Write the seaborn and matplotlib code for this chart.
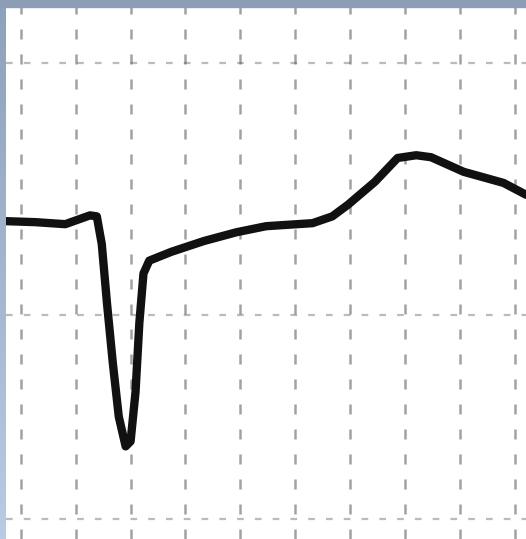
import numpy as np
import pandas as pd
import matplotlib
matplotlib.use("Agg")
import matplotlib.pyplot as plt
from matplotlib.patches import Rectangle
import seaborn as sns

# -----------------------------
# Data (ECG trace)
# -----------------------------
time_s = [-0.054, 0.054, 0.162, 0.252, 0.277, 0.295, 0.314, 0.335, 0.357,
          0.382, 0.400, 0.418, 0.432, 0.447, 0.468, 0.548, 0.667, 0.786,
          0.894, 1.063, 1.135, 1.193, 1.290, 1.373, 1.441, 1.495, 1.614,
          1.759, 1.841]
voltage_mv = [0.373, 0.369, 0.361, 0.396, 0.392, 0.282, 0.047, -0.188, -0.404,
              -0.522, -0.502, -0.306, -0.031, 0.165, 0.216, 0.251, 0.294, 0.329,
              0.353, 0.365, 0.392, 0.439, 0.529, 0.624, 0.635, 0.627, 0.569,
              0.525, 0.478]

x_grid = [0.0, 0.2, 0.4, 0.6, 0.8, 1.0, 1.2, 1.4, 1.6, 1.8]
y_grid = [1.0, 0.0, -0.81]

df = pd.DataFrame({"t": time_s, "mv": voltage_mv})

# -----------------------------
# Graph
# -----------------------------
sns.set_style("white")

fig = plt.figure(figsize=(5.26, 5.39), dpi=100)
fig.patch.set_facecolor("white")
ax = fig.add_axes([6 / 526, 0, 1 - 6 / 526, 1 - 7 / 539])

sns.lineplot(data=df, x="t", y="mv", ax=ax, color="#111111",
             linewidth=6.0, sort=False, solid_capstyle="round",
             solid_joinstyle="round")

ax.set_xlim(-0.054, 1.841)
ax.set_ylim(-0.89, 1.224)
ax.set_xticks(x_grid)
ax.set_yticks(y_grid)
ax.set_xticklabels([])
ax.set_yticklabels([])
ax.tick_params(length=0)
ax.set_xlabel("")
ax.set_ylabel("")
ax.xaxis.grid(True, color="#555555", linestyle=(0, (4, 6)), linewidth=1.8, alpha=0.55)
ax.yaxis.grid(True, color="#555555", linestyle=(0, (3, 5)), linewidth=1.6, alpha=0.4)
ax.set_axisbelow(True)
for s in ax.spines.values():
    s.set_visible(False)

# blue-grey frame at top and left edge
fig.patches.append(Rectangle((0, 1 - 7 / 539), 1, 7 / 539,
                             transform=fig.transFigure, color="#8c9db5",
                             zorder=0))
grad = np.linspace(0, 1, 100).reshape(-1, 1)
left_ax = fig.add_axes([0, 0, 6 / 526, 1 - 7 / 539])
left_ax.imshow(grad, aspect="auto", cmap=matplotlib.colors.LinearSegmentedColormap.from_list(
    "edge", ["#8fa2bb", "#b8cbe3"]))
left_ax.axis("off")

plt.savefig("out.png", dpi=100)
plt.close()
